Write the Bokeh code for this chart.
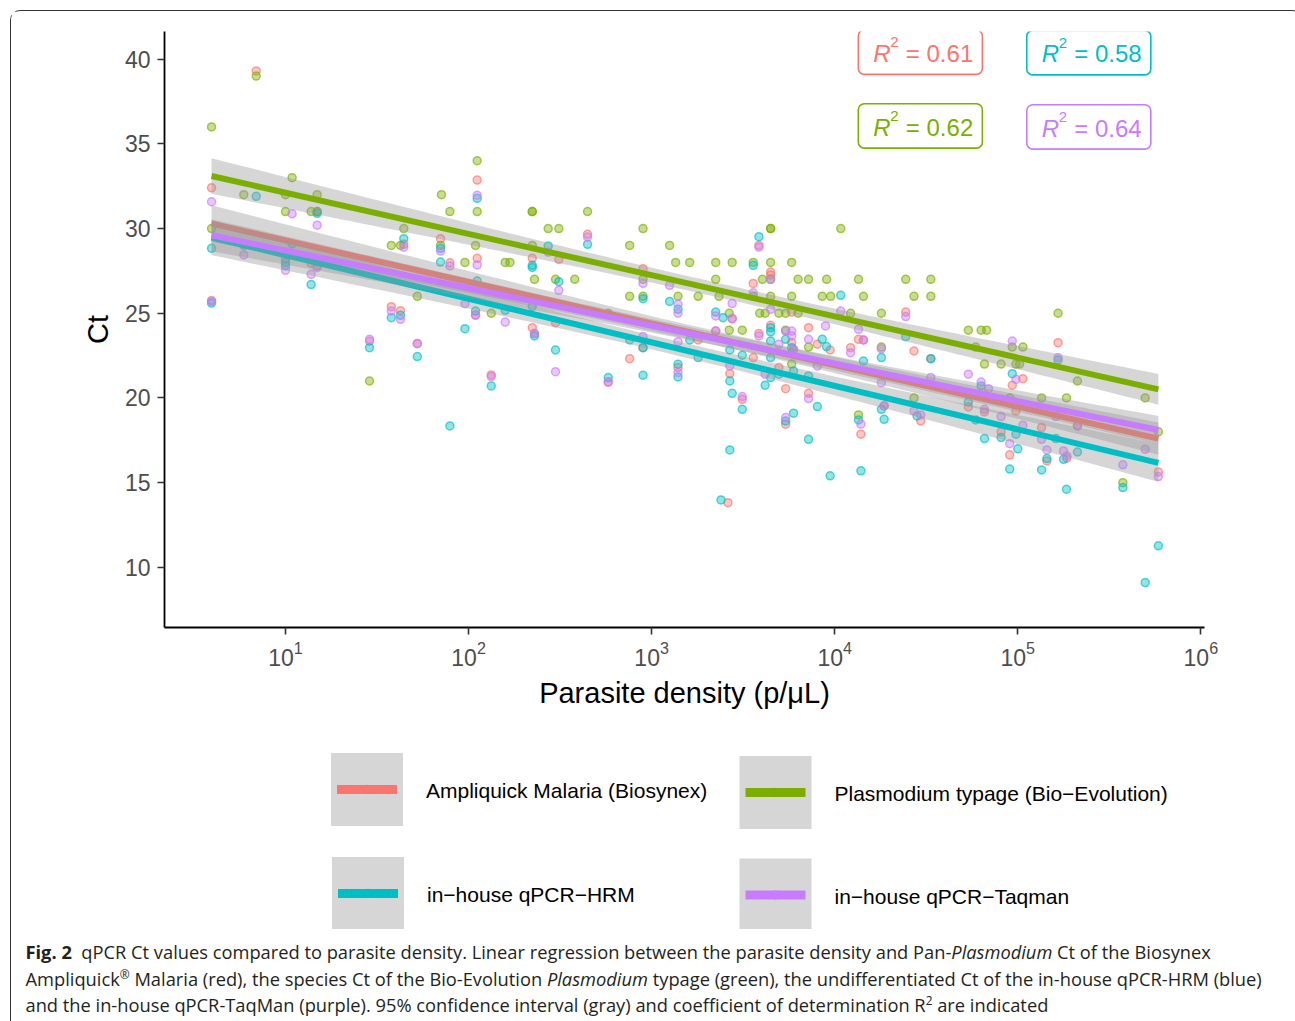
import numpy as np
from bokeh.plotting import figure
from bokeh.models import Range1d, FixedTicker, BoxAnnotation, Label, Div
from bokeh.layouts import column
from bokeh.embed import file_html
from bokeh.resources import INLINE
from bokeh.core.properties import value

# ---------------- data ----------------
series_names = ["Ampliquick Malaria (Biosynex)", "Plasmodium typage (Bio−Evolution)",
                "in−house qPCR−HRM", "in−house qPCR−Taqman"]
series_colors = ["#F8766D", "#7CAE00", "#00BFC4", "#C77CFF"]
r2_values = ["0.61", "0.62", "0.58", "0.64"]

# log10 parasite density (p/µL) and Ct
red_log_density = [0.596, 0.596, 0.84, 1.0, 1.14, 1.173, 1.173, 1.459, 1.578, 1.628, 1.646, 1.72, 1.847, 1.898,
                   2.038, 2.047, 2.047, 2.124, 2.348, 2.348, 2.36, 2.475, 2.493, 2.65, 2.763, 2.88, 2.953, 2.953,
                   3.144, 3.254, 3.35, 3.417, 3.44, 3.427, 3.495, 3.555, 3.555, 3.586, 3.586, 3.65, 3.65, 3.65,
                   3.695, 3.732, 3.732, 3.765, 3.765, 3.775, 3.857, 3.857, 3.905, 3.975, 4.087, 4.13, 4.143, 4.157,
                   4.27, 4.388, 4.433, 4.47, 4.525, 4.73, 4.818, 4.909, 4.956, 4.97, 4.99, 5.028, 5.13, 5.159,
                   5.22, 5.268, 5.326, 5.768]
red_ct = [32.4, 25.75, 39.3, 28.2, 27.95, 31.0, 27.8, 23.35, 25.39, 25.15, 29.07, 23.2, 29.4, 27.98,
          24.9, 32.86, 28.24, 21.36, 28.24, 24.15, 23.8, 24.44, 28.18, 29.66, 20.94, 22.32, 27.63, 22.97,
          21.79, 23.42, 23.95, 13.82, 24.68, 21.44, 19.92, 26.76, 22.38, 29.0, 23.81, 27.43, 27.25, 24.29,
          21.79, 20.55, 18.45, 25.07, 23.27, 22.87, 24.15, 20.27, 23.17, 22.83, 22.97, 23.46, 17.86, 23.42,
          19.53, 25.07, 22.77, 18.64, 22.32, 19.47, 19.17, 18.0, 16.64, 20.75, 19.23, 21.14, 18.25, 16.28,
          23.26, 16.44, 18.35, 15.63]

green_log_density = [0.596, 0.596, 0.772, 0.84, 1.0, 1.0, 1.036, 1.14, 1.173, 1.173, 1.459, 1.578, 1.628, 1.646,
                     1.72, 1.847, 1.852, 1.898, 1.98, 2.038, 2.047, 2.047, 2.124, 2.2, 2.226, 2.348, 2.348, 2.348,
                     2.36, 2.435, 2.475, 2.493, 2.58, 2.65, 2.763, 2.88, 2.88, 2.953, 2.953, 2.953, 3.098, 3.131,
                     3.144, 3.208, 3.254, 3.35, 3.35, 3.368, 3.44, 3.424, 3.424, 3.495, 3.555, 3.555, 3.605, 3.59,
                     3.65, 3.65, 3.65, 3.65, 3.65, 3.62, 3.695, 3.732, 3.732, 3.765, 3.765, 3.765, 3.8, 3.8,
                     3.857, 3.857, 3.932, 3.956, 3.978, 4.033, 4.087, 4.13, 4.13, 4.157, 4.255, 4.255, 4.388,
                     4.433, 4.433, 4.525, 4.525, 4.73, 4.77, 4.8, 4.83, 4.818, 4.909, 4.956, 4.97, 4.99, 5.01,
                     5.028, 5.13, 5.22, 5.266, 5.326, 5.574, 5.696, 5.768]
green_ct = [36, 30, 32, 39, 32, 31, 33, 31, 32, 31, 21, 29, 29, 30,
            26, 29, 32, 31, 28, 29, 34, 31, 25, 28, 28, 31, 31, 29,
            27, 30, 27, 30, 27, 31, 25, 29, 26, 30, 27, 26, 29, 28,
            26, 28, 26, 28, 27, 26, 28, 25, 24, 24, 28, 26, 27, 25,
            30, 30, 28, 27, 26, 25, 25, 25, 24, 28, 26, 22, 27, 25,
            27, 23, 26, 27, 26, 30, 25, 27, 19, 26, 25, 23, 27,
            26, 20, 27, 26, 24, 23, 24, 24, 22, 22, 20, 23, 22, 22,
            23, 20, 25, 20, 21, 15, 20, 18]

cyan_log_density = [0.596, 0.596, 0.772, 0.84, 1.0, 1.0, 1.036, 1.14, 1.173, 1.459, 1.578, 1.628, 1.646, 1.72,
                    1.847, 1.847, 1.898, 1.98, 2.038, 2.047, 2.047, 2.124, 2.2, 2.348, 2.348, 2.348, 2.36, 2.435,
                    2.475, 2.493, 2.65, 2.763, 2.88, 2.953, 2.953, 2.953, 3.098, 3.144, 3.144, 3.144, 3.208, 3.254,
                    3.35, 3.379, 3.39, 3.427, 3.427, 3.427, 3.44, 3.495, 3.495, 3.555, 3.586, 3.62, 3.65, 3.65,
                    3.65, 3.65, 3.65, 3.695, 3.732, 3.732, 3.765, 3.775, 3.775, 3.857, 3.857, 3.905, 3.932, 3.955,
                    3.975, 4.033, 4.13, 4.143, 4.157, 4.255, 4.255, 4.27, 4.388, 4.45, 4.525, 4.73, 4.77, 4.8,
                    4.818, 4.909, 4.956, 4.97, 4.99, 5.0, 5.13, 5.159, 5.208, 5.22, 5.25, 5.266, 5.326, 5.574,
                    5.696, 5.768]
cyan_ct = [28.83, 25.6, 29.0, 31.9, 28.0, 27.8, 29.1, 26.69, 30.9, 22.97, 24.74, 24.88, 29.4, 22.44,
           28.83, 28.02, 18.35, 24.09, 25.13, 31.78, 26.9, 20.71, 25.17, 27.83, 27.7, 25.4, 23.66, 28.97,
           22.83, 26.86, 29.07, 21.2, 23.42, 25.86, 22.97, 21.34, 25.7, 25.23, 21.99, 21.24, 23.42, 22.38,
           25.07, 13.98, 24.74, 22.83, 21.0, 16.93, 20.27, 22.52, 19.33, 27.83, 29.52, 20.75, 24.15, 23.9,
           23.36, 22.38, 21.2, 21.4, 23.46, 18.64, 22.97, 21.59, 19.1, 21.3, 17.56, 19.49, 23.46, 23.03,
           15.4, 26.06, 18.7, 15.7, 22.18, 22.38, 19.33, 18.74, 23.62, 18.94, 22.32, 19.76, 18.7, 20.71,
           17.6, 17.66, 15.8, 21.43, 17.86, 17.0, 15.75, 16.42, 17.6, 22.24, 16.38, 14.61, 16.81, 14.71,
           9.1, 11.27]

purple_log_density = [0.596, 0.596, 0.772, 1.0, 1.036, 1.14, 1.173, 1.173, 1.459, 1.578, 1.628, 1.646, 1.72,
                      1.847, 1.898, 1.98, 2.038, 2.047, 2.047, 2.124, 2.2, 2.36, 2.435, 2.475, 2.493, 2.65, 2.763,
                      2.953, 2.953, 3.098, 3.144, 3.144, 3.144, 3.144, 3.35, 3.35, 3.44, 3.44, 3.427, 3.495, 3.555,
                      3.586, 3.586, 3.62, 3.65, 3.65, 3.695, 3.732, 3.732, 3.765, 3.765, 3.775, 3.857, 3.857,
                      3.905, 3.95, 4.033, 4.087, 4.13, 4.143, 4.157, 4.255, 4.255, 4.27, 4.388, 4.433, 4.47, 4.525,
                      4.73, 4.8, 4.818, 4.84, 4.909, 4.956, 4.97, 4.99, 5.028, 5.13, 5.159, 5.208, 5.22, 5.25,
                      5.268, 5.326, 5.574, 5.696, 5.768]
purple_ct = [31.58, 25.7, 28.44, 27.53, 30.87, 27.3, 30.2, 27.7, 23.46, 25.13, 24.64, 28.9, 23.22,
             28.67, 27.79, 25.56, 24.88, 31.96, 27.85, 21.26, 24.48, 23.8, 28.6, 21.55, 26.35, 29.5, 20.94,
             26.76, 23.62, 26.65, 25.53, 25.0, 23.32, 21.5, 24.84, 23.95, 25.58, 24.68, 21.89, 20.08, 26.21,
             28.9, 23.66, 21.4, 27.0, 25.23, 23.17, 23.95, 18.84, 23.95, 23.66, 22.87, 23.46, 19.96,
             21.89, 24.25, 25.13, 22.67, 24.05, 18.45, 23.42, 22.9, 20.9, 19.53, 24.8, 19.23, 19.0, 21.2,
             21.4, 20.94, 19.33, 20.55, 18.9, 17.3, 23.36, 21.1, 18.39, 17.56, 16.93, 18.9, 22.38, 16.87,
             16.58, 18.35, 16.05, 16.97, 15.36]

series_log_density = [red_log_density, green_log_density, cyan_log_density, purple_log_density]
series_ct = [red_ct, green_ct, cyan_ct, purple_ct]

# regression lines (Ct at lowest and highest density) and 95% CI half-widths
fit_start_ct = [30.29, 33.10, 29.46, 29.60]
fit_end_ct = [17.60, 20.51, 16.17, 18.11]
ci_half_start = [1.08, 1.05, 1.03, 0.95]
ci_half_min = [0.42, 0.42, 0.42, 0.38]
ci_half_end = [0.95, 0.91, 1.12, 0.83]

x_ticks = [1e1, 1e2, 1e3, 1e4, 1e5, 1e6]
y_ticks = [10, 15, 20, 25, 30, 35, 40]

# ---------------- layout constants ----------------
W = 1280
H_MAIN = 710
H_LEG = 208
H_CAP = 88
BORDER_L, FRAME_W, FRAME_H, BORDER_T = 153, 1040, 596, 20
BORDER_R = W - BORDER_L - FRAME_W
BORDER_B = H_MAIN - BORDER_T - FRAME_H
PAGE_X0 = 11.5            # page x of content left
PAGE_Y0 = 11.5            # page y of content top
FONT = "Liberation Sans"


def px_to_x(px):
    # reference pixel column -> parasite density
    return 10 ** (1 + (px - 285.0) / 183.0)


def py_to_y(py):
    # reference pixel row -> Ct
    return 40 - (py - 59.7) / 16.95


# ---------------- main plot ----------------
p = figure(width=W, height=H_MAIN, x_axis_type="log",
           x_range=Range1d(10 ** 0.339, 10 ** 6.02), y_range=Range1d(6.45, 41.63),
           output_backend="svg", toolbar_location=None,
           min_border_left=BORDER_L, min_border_right=BORDER_R,
           min_border_top=BORDER_T, min_border_bottom=BORDER_B,
           x_axis_label="Parasite density (p/μL)", y_axis_label="Ct")
p.outline_line_color = None
p.grid.visible = False
p.background_fill_color = "white"
p.border_fill_color = "white"

p.xaxis.ticker = FixedTicker(ticks=x_ticks)
p.yaxis.ticker = FixedTicker(ticks=y_ticks)
for ax in (p.xaxis[0], p.yaxis[0]):
    ax.axis_line_color = "black"
    ax.axis_line_width = 1.8
    ax.major_tick_line_color = "#333333"
    ax.major_tick_line_width = 1.6
    ax.major_tick_out = 7
    ax.major_tick_in = 0
    ax.minor_tick_line_color = None
    ax.major_label_text_font = FONT
    ax.major_label_text_font_size = "23px"
    ax.major_label_text_color = "#4D4D4D"
    ax.axis_label_text_font = FONT
    ax.axis_label_text_font_size = "29px"
    ax.axis_label_text_font_style = "normal"
    ax.axis_label_text_color = "black"
p.xaxis.major_label_standoff = 6
p.xaxis.axis_label_standoff = 8
p.yaxis.major_label_standoff = 7
p.yaxis.axis_label_standoff = 8

# points
for color, lx, ct in zip(series_colors, series_log_density, series_ct):
    p.scatter(10 ** np.array(lx), ct, size=8, marker="circle",
              fill_color=color, fill_alpha=0.42, line_color=color, line_alpha=0.65, line_width=1.5)

# regression bands and lines (band then line, per group)
for i, color in enumerate(series_colors):
    lx = np.array(series_log_density[i])
    x0, x1 = lx.min(), lx.max()
    xs = np.linspace(x0, x1, 90)
    y0, y1 = fit_start_ct[i], fit_end_ct[i]
    center = y0 + (y1 - y0) * (xs - x0) / (x1 - x0)
    h0, hm, h1 = ci_half_start[i], ci_half_min[i], ci_half_end[i]
    r = np.sqrt((h0 ** 2 - hm ** 2) / (h1 ** 2 - hm ** 2))
    xc = (x0 + r * x1) / (1 + r)
    k = (h0 ** 2 - hm ** 2) / (xc - x0) ** 2
    half = np.sqrt(hm ** 2 + k * (xs - xc) ** 2)
    p.varea(x=10 ** xs, y1=center - half, y2=center + half, fill_color="#999999", fill_alpha=0.4)
    p.line(x=10 ** np.array([x0, x1]), y=[y0, y1], line_color=color, line_width=6)

# R^2 labels (order: red, green, cyan, purple)
r2_box_left = [857.6, 857.6, 1026.0, 1026.0]
r2_box_top = [30.5, 104.3, 31.0, 105.3]
BOX_W, BOX_H = 124, 44.5
for i, color in enumerate(series_colors):
    L, T = r2_box_left[i], r2_box_top[i]
    p.add_layout(BoxAnnotation(left=px_to_x(L), right=px_to_x(L + BOX_W),
                               top=py_to_y(T), bottom=py_to_y(T + BOX_H),
                               fill_color=None, line_color=color, line_alpha=1.0,
                               line_width=1.6, border_radius=6))
    p.add_layout(Label(x=px_to_x(L + 15), y=py_to_y(T + 23.5), text="R", text_font=FONT,
                       text_font_style="italic", text_font_size="24px", text_color=color,
                       text_baseline="alphabetic", text_align="left"))
    p.add_layout(Label(x=px_to_x(L + 32), y=py_to_y(T + 12.5), text="2", text_font=FONT,
                       text_font_size="15px", text_color=color,
                       text_baseline="alphabetic", text_align="left"))
    p.add_layout(Label(x=px_to_x(L + 47.5), y=py_to_y(T + 23.5), text="= " + r2_values[i], text_font=FONT,
                       text_font_size="24px", text_color=color,
                       text_baseline="alphabetic", text_align="left"))

# ---------------- legend (page-pixel coordinates inside an aligned frame) ----------------
leg_top = PAGE_Y0 + H_MAIN
frame_left_page = PAGE_X0 + BORDER_L
leg = figure(width=W, height=H_LEG,
             x_range=Range1d(frame_left_page, frame_left_page + FRAME_W),
             y_range=Range1d(leg_top + H_LEG, leg_top),
             output_backend="svg", toolbar_location=None,
             min_border_left=BORDER_L, min_border_right=BORDER_R, min_border_top=0, min_border_bottom=0)
leg.axis.visible = False
leg.grid.visible = False
leg.outline_line_color = None

key_cx = [367.0, 775.5, 368.0, 775.5]
key_cy = [789.5, 792.5, 893.5, 895.0]
KEY_W, KEY_H = 72, 73
for i, color in enumerate(series_colors):
    cx, cy = key_cx[i], key_cy[i]
    leg.quad(left=[cx - KEY_W / 2], right=[cx + KEY_W / 2], top=[cy - KEY_H / 2], bottom=[cy + KEY_H / 2],
             fill_color="#D6D6D6", line_color=None)
    leg.segment(x0=[cx - 30], x1=[cx + 30], y0=[cy], y1=[cy], line_color=color, line_width=9)
    leg.scatter([cx], [cy], size=8, fill_color=color, fill_alpha=0.42, line_color=color,
                line_alpha=0.65, line_width=1.5)
    leg.text(x=[cx + 59], y=[cy + 1], text=[series_names[i]], text_baseline="middle", text_align="left",
             text_font=value(FONT), text_font_size="21px", text_color="black")

# ---------------- caption ----------------
sup = '<sup style="font-size:0.65em; vertical-align:0.55em; line-height:0;">'
caption_html = (
    '<div style="font-family:\'Open Sans\'; font-size:18.3px; line-height:26.5px; color:#231f20; '
    'white-space:nowrap; padding:5px 0 0 9.5px; margin:0;">'
    '<b>Fig. 2</b>&nbsp;&nbsp;qPCR Ct values compared to parasite density. Linear regression between the '
    'parasite density and Pan-<i>Plasmodium</i> Ct of the Biosynex<br>'
    'Ampliquick' + sup + '®</sup> Malaria (red), '
    'the species Ct of the Bio-Evolution <i>Plasmodium</i> typage (green), the undifferentiated Ct of the '
    'in-house qPCR-HRM (blue)<br>'
    'and the in-house qPCR-TaqMan (purple). 95% confidence interval (gray) and coefficient of determination '
    'R' + sup + '2</sup> are indicated'
    '</div>'
)
cap = Div(text=caption_html, width=W, height=H_CAP)

layout = column(p, leg, cap, spacing=0,
                styles={"border": "1.5px solid #333333", "border-bottom": "none",
                        "border-radius": "10px 10px 0 0", "margin": "10px 0 0 10px"})

open("out.html", "w").write(file_html(layout, INLINE))
